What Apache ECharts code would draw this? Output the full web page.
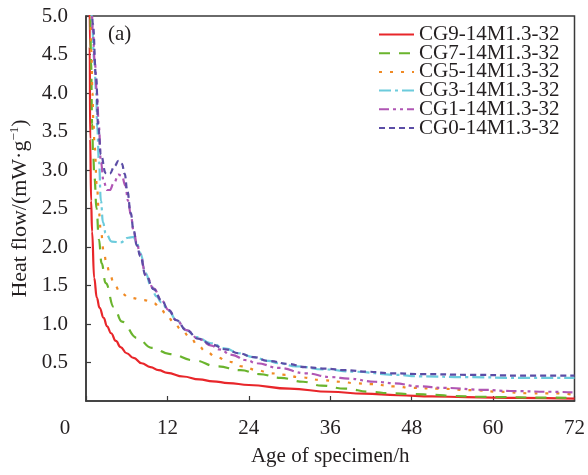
<!DOCTYPE html>
<html><head><meta charset="utf-8">
<script src="https://cdn.jsdelivr.net/npm/echarts@6/dist/echarts.min.js"></script>
<style>html,body{margin:0;padding:0;background:#fff}#c{width:588px;height:475px}</style>
</head><body><div id="c"></div>
<script>
const seriesNames = ['CG9-14M1.3-32','CG7-14M1.3-32','CG5-14M1.3-32','CG3-14M1.3-32','CG1-14M1.3-32','CG0-14M1.3-32'];
const xTicks = [0,12,24,36,48,60,72];
const yTicks = [0.5,1.0,1.5,2.0,2.5,3.0,3.5,4.0,4.5,5.0];

const cg9 = [[0.5,6.0],[0.55,4.6],[0.62,3.4],[0.75,2.6],[0.9,2.2],[1.2,1.6],[1.6,1.34],[2.0,1.21],[2.6,1.08],[3.1,0.97],[3.7,0.88],[4.4,0.78],[5.1,0.70],[6,0.62],[7,0.56],[8.2,0.49],[9.5,0.44],[10.7,0.40],[12,0.365],[14.3,0.318],[16.7,0.28],[18.7,0.256],[21,0.233],[24,0.208],[30,0.16],[36,0.12],[41,0.095],[46,0.075],[51,0.06],[56,0.05],[64,0.04],[72,0.03]];
const cg7 = [[0.55,6.0],[0.6,5.2],[0.75,4.4],[0.9,3.6],[1.05,3.2],[1.25,2.9],[1.55,2.5],[1.9,2.1],[2.3,1.79],[2.9,1.53],[4.1,1.22],[5.3,1.03],[7.5,0.82],[9.7,0.69],[12.4,0.61],[15.8,0.53],[19.3,0.45],[22.8,0.40],[25.5,0.35],[28.7,0.30],[32,0.25],[34.7,0.20],[38.2,0.16],[41.9,0.12],[44.8,0.10],[48,0.09],[51.5,0.08],[54,0.065],[58,0.055],[61.6,0.05],[66,0.045],[72,0.04]];
const cg5 = [[0.6,6.0],[0.65,5.3],[0.8,4.5],[0.95,4.0],[1.1,3.6],[1.27,3.3],[1.6,2.8],[1.9,2.45],[2.2,2.2],[2.6,1.95],[3.0,1.8],[3.5,1.65],[4.1,1.53],[5.1,1.40],[6.5,1.34],[8.5,1.31],[10,1.27],[11,1.2],[11.7,1.14],[12.9,1.03],[14.1,0.92],[15.4,0.82],[16.5,0.72],[17.7,0.64],[19.2,0.57],[21.1,0.51],[23,0.45],[25.2,0.40],[27.2,0.36],[29.4,0.34],[31.3,0.31],[35,0.27],[37.5,0.25],[39.7,0.23],[42,0.22],[45.5,0.19],[48,0.17],[52,0.16],[57,0.14],[61,0.12],[65.4,0.10],[69.4,0.10],[72,0.08]];
const cg3 = [[0.65,6.0],[0.7,5.3],[0.9,4.9],[1.2,4.43],[1.5,4.0],[1.65,3.56],[1.9,3.13],[2.2,2.6],[2.5,2.32],[2.9,2.18],[3.8,2.07],[5.1,2.06],[6.2,2.12],[7.0,2.13],[7.5,2.05],[8,1.92],[8.8,1.66],[9.5,1.51],[10.4,1.36],[11.1,1.28],[12.2,1.17],[13.3,1.05],[14.8,0.92],[16.3,0.83],[18.4,0.75],[20.6,0.68],[22.5,0.62],[24.7,0.57],[26.9,0.52],[28.4,0.49],[31,0.45],[35,0.41],[39.7,0.38],[45.5,0.34],[49.3,0.32],[56,0.31],[64,0.30],[72,0.30]];
const cg1 = [[0.75,6.0],[0.8,5.3],[1.0,4.8],[1.3,4.4],[1.6,4.0],[1.9,3.56],[2.2,3.1],[2.6,2.85],[3.1,2.74],[3.5,2.74],[4.1,2.83],[4.8,2.94],[5.3,2.92],[5.8,2.8],[6.2,2.6],[6.6,2.42],[7.0,2.22],[7.5,2.04],[8,1.9],[8.8,1.64],[10,1.46],[11.1,1.31],[12.2,1.18],[13.3,1.05],[14.8,0.92],[16.7,0.80],[18.5,0.72],[19.6,0.67],[21.5,0.60],[23.6,0.53],[25.2,0.49],[28.4,0.43],[32.3,0.36],[36.2,0.31],[38.7,0.29],[42.6,0.25],[45.5,0.23],[48.9,0.19],[52.9,0.17],[58.7,0.145],[62.5,0.13],[68.4,0.12],[72,0.11]];
const cg0 = [[0.75,6.0],[0.8,5.3],[1.0,4.9],[1.5,4.2],[1.8,3.56],[2.2,3.2],[2.9,2.96],[3.5,2.95],[4.2,3.05],[4.8,3.12],[5.3,3.08],[5.7,2.95],[6.1,2.72],[6.6,2.44],[7.0,2.22],[7.5,2.02],[8,1.88],[8.8,1.63],[10,1.45],[11.1,1.31],[12.2,1.18],[13.3,1.05],[14.8,0.92],[16.5,0.81],[18.6,0.73],[20.6,0.67],[22.5,0.62],[24.7,0.57],[26.9,0.52],[29.9,0.48],[32.3,0.44],[35.3,0.42],[38.2,0.40],[41.6,0.38],[44.8,0.36],[49.3,0.35],[56.7,0.34],[64,0.33],[72,0.33]];

const dataSets = [cg9, cg7, cg5, cg3, cg1, cg0];
const colors = ['#e8262a','#6ab42d','#f08a24','#6ccbdc','#b056b4','#5b4da6'];
const dashes = ['solid',[11,9],[3,8],[12,4,3,4],[10,4,3,4,3,4],[6,4]];

const FONT = 'Liberation Serif';
const TXT = '#231f20';
const chart = echarts.init(document.getElementById('c'));
chart.setOption({
  backgroundColor: '#fff',
  animation: false,
  textStyle: {fontFamily: FONT},
  grid: {left: 86, right: 11, top: 16, bottom: 74, show: true, borderColor: '#3a3a3a', borderWidth: 1.5, backgroundColor: 'transparent'},
  title: {text: '(a)', left: 108, top: 24, padding: 0, textStyle: {fontFamily: FONT, fontSize: 21, fontWeight: 'normal', color: TXT}},
  legend: {
    data: seriesNames, orient: 'vertical', left: 378, top: 24, padding: 0,
    itemWidth: 35, itemHeight: 14, itemGap: -2.3,
    itemStyle: {opacity: 0},
    textStyle: {fontFamily: FONT, fontSize: 21, color: TXT}
  },
  xAxis: {
    type: 'value', min: 0, max: 72, interval: 12,
    name: 'Age of specimen/h', nameLocation: 'middle', nameGap: 45,
    nameTextStyle: {fontFamily: FONT, fontSize: 21, color: TXT},
    axisLine: {lineStyle: {color: '#3a3a3a', width: 1.5}},
    axisTick: {inside: true, length: 5, lineStyle: {color: '#3a3a3a', width: 1.2}},
    axisLabel: {
      margin: 17, fontFamily: FONT, fontSize: 21, color: TXT,
      formatter: v => v === 0 ? '{z|0}' : String(v),
      rich: {z: {fontFamily: FONT, fontSize: 21, color: TXT, padding: [0, 42, 0, 0]}}
    },
    splitLine: {show: false}
  },
  yAxis: {
    type: 'value', min: 0, max: 5, interval: 0.5,
    name: 'Heat flow/(mW·g{sup|−1})', nameLocation: 'middle', nameGap: 53, nameRotate: 90,
    nameTextStyle: {fontFamily: FONT, fontSize: 22, color: TXT,
      rich: {sup: {fontFamily: FONT, fontSize: 13, color: TXT, verticalAlign: 'top', padding: [0,0,10,0]}}},
    axisLine: {lineStyle: {color: '#3a3a3a', width: 1.5}},
    axisTick: {inside: true, length: 5, lineStyle: {color: '#3a3a3a', width: 1.2}},
    axisLabel: {margin: 18, fontFamily: FONT, fontSize: 21, color: TXT, showMinLabel: false,
      formatter: v => v.toFixed(1)},
    splitLine: {show: false}
  },
  series: seriesNames.map((n, i) => ({
    name: n, type: 'line', data: dataSets[i], showSymbol: false, symbol: 'none',
    smooth: 0.45, smoothMonotone: 'x', clip: true,
    lineStyle: {color: colors[i], width: 2.2, type: dashes[i]},
    itemStyle: {color: colors[i]}
  }))
});
</script></body></html>
